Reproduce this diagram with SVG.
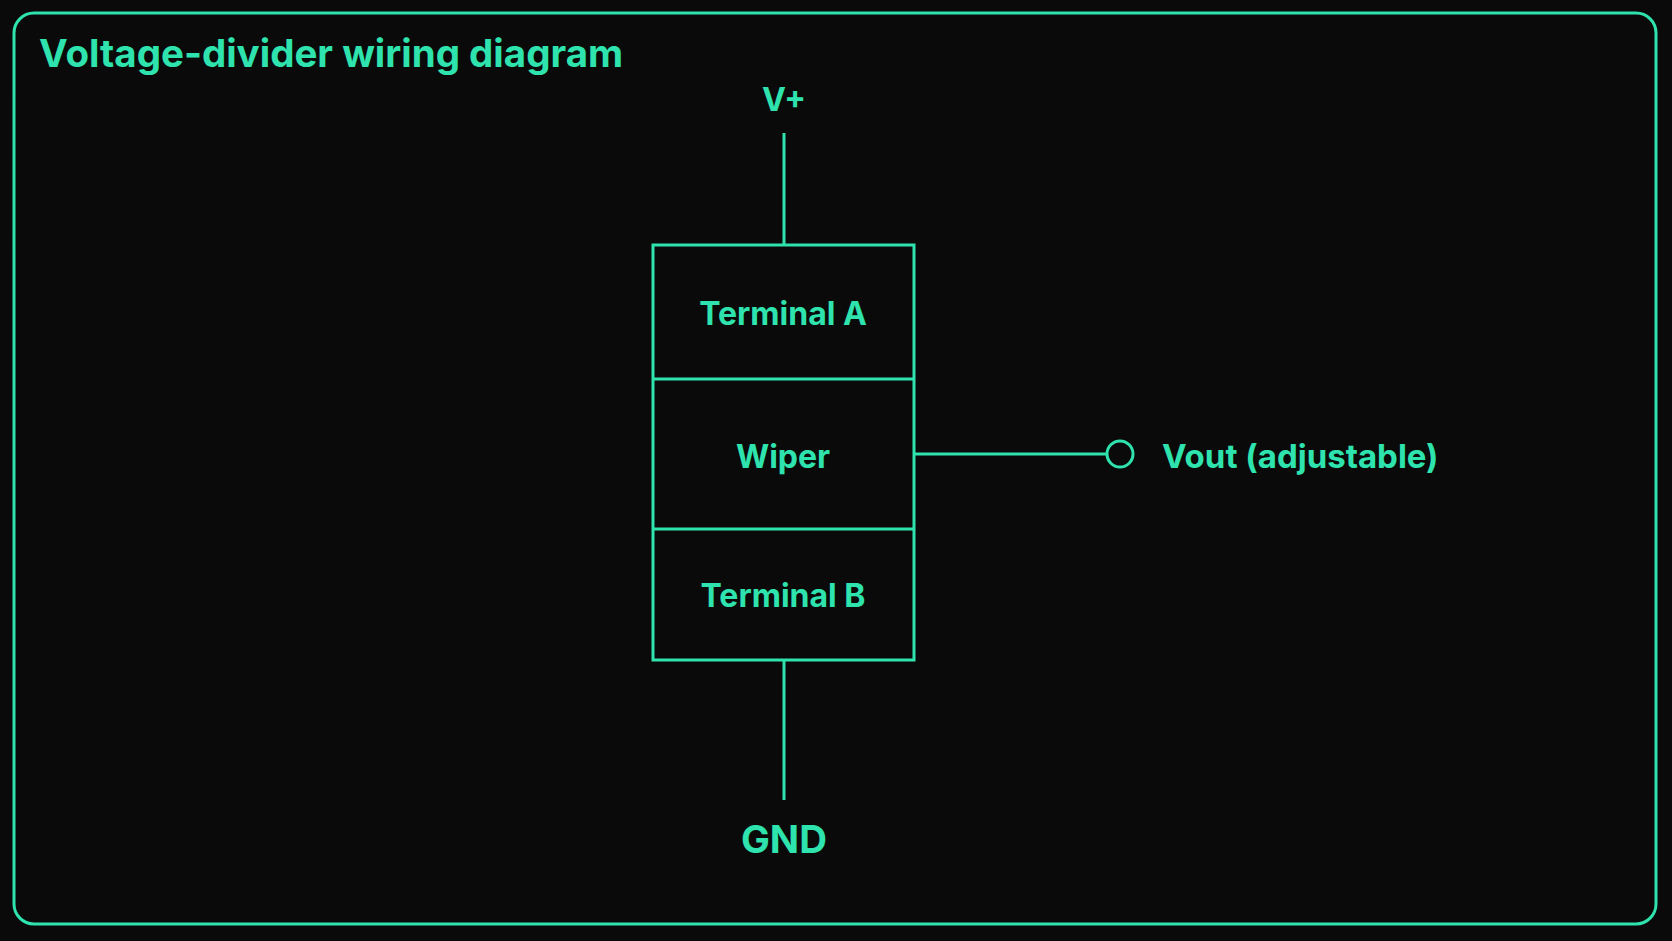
<svg xmlns="http://www.w3.org/2000/svg" width="1672" height="941" viewBox="0 0 1672 941">
<style>
.s{fill:none;stroke:#2ee3ad;stroke-width:3}
text{fill:#2ee3ad;font-family:Inter,"Liberation Sans",sans-serif;font-weight:700}
.c{text-anchor:middle;font-size:32px}
</style>
<rect width="1672" height="941" fill="#0a0a0a"/>
<rect x="14" y="13" width="1642" height="911" rx="20" class="s" stroke-width="2"/>
<text x="39" y="67" font-size="38.5">Voltage-divider wiring diagram</text>
<g id="connectors">
<line x1="784" y1="133" x2="784" y2="245" class="s"/>
<line x1="784" y1="660" x2="784" y2="800" class="s"/>
<line x1="914" y1="454" x2="1107" y2="454" class="s"/>
<circle cx="1120" cy="454" r="13" class="s"/>
</g>
<g id="vplus"><text x="784" y="111" class="c">V+</text></g>
<g id="gnd"><text x="784" y="853" class="c" style="font-size:38.5px">GND</text></g>
<g id="pot">
<rect x="653" y="245" width="261" height="415" class="s"/>
<line x1="653" y1="379" x2="914" y2="379" class="s"/>
<line x1="653" y1="529" x2="914" y2="529" class="s"/>
</g>
<g id="terminalA"><text x="783" y="325" class="c">Terminal A</text></g>
<g id="wiper"><text x="783" y="468" class="c">Wiper</text></g>
<g id="terminalB"><text x="783" y="607" class="c">Terminal B</text></g>
<g id="vout"><text x="1162" y="468" font-size="33">Vout (adjustable)</text></g>
</svg>
